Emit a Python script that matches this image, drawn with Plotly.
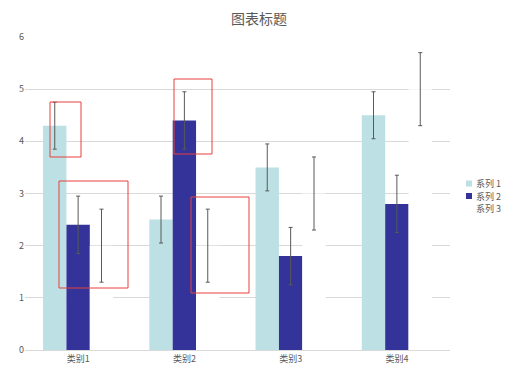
import plotly.graph_objects as go

categories = ["类别1", "类别2", "类别3", "类别4"]
series1 = [4.3, 2.5, 3.5, 4.5]
series2 = [2.4, 4.4, 1.8, 2.8]
series3 = [2.0, 2.0, 3.0, 5.0]
err1 = 0.45
err2 = 0.55
err3 = 0.7
y_ticks = [0, 1, 2, 3, 4, 5, 6]

names = ["系列 1", "系列 2", "系列 3"]
colors = ["#bce0e3", "#333399", "#ffffff"]
title_text = "图表标题"

FONT = "Noto Sans CJK SC, Microsoft YaHei, sans-serif"
GREY = "#595959"
ERR = dict(type="constant", color=GREY, thickness=1, width=2)

fig = go.Figure()
for name, vals, err, col in zip(names, [series1, series2, series3], [err1, err2, err3], colors):
    fig.add_bar(name=name, x=categories, y=vals, showlegend=False,
                marker=dict(color=col, line=dict(width=0)),
                error_y=dict(value=err, **ERR))

# page has an 8px body margin: viewport coordinates -> figure
OX, OY = 8, 8
VW, VH = 518, 380
W, H = VW - OX, VH - OY
PL, PR, PT, PB = 25, 450, 37, 350          # plot area in viewport pixels
pw, ph = PR - PL, PB - PT

def px(x):
    return (x - PL) / pw

def py(y):
    return (PB - y) / ph

def px_rect(x0, y0, x1, y1):
    return dict(type="rect", xref="paper", yref="paper",
                x0=px(x0), x1=px(x1), y0=py(y1), y1=py(y0),
                line=dict(color="#e8413c", width=1), fillcolor="rgba(0,0,0,0)", layer="above")

shapes = [px_rect(50, 102, 81, 157), px_rect(59, 181, 128, 288),
          px_rect(174, 79, 212, 154), px_rect(191, 197, 249, 293)]

# chart title
annotations = [dict(text=title_text, xref="paper", yref="paper", x=px(259), y=py(17.5),
                    xanchor="center", yanchor="middle", showarrow=False,
                    font=dict(family=FONT, size=14, color=GREY))]

# legend (Excel style: small squares, tight rows)
leg_y = [183.5, 196, 208.5]
for name, col, yy in zip(names, colors, leg_y):
    shapes.append(dict(type="rect", xref="paper", yref="paper",
                       x0=px(466), x1=px(472), y0=py(yy + 3), y1=py(yy - 3),
                       line=dict(width=0), fillcolor=col, layer="above"))
    annotations.append(dict(text=name, xref="paper", yref="paper", x=px(474), y=py(yy),
                            xanchor="left", yanchor="middle", showarrow=False,
                            font=dict(family=FONT, size=9, color=GREY)))

fig.update_layout(
    width=W, height=H,
    margin=dict(l=PL - OX, r=VW - PR, t=PT - OY, b=VH - PB, autoexpand=False, pad=0),
    paper_bgcolor="white", plot_bgcolor="white",
    barmode="group", bargap=0.34, bargroupgap=0,
    font=dict(family=FONT, size=9, color=GREY),
    showlegend=False,
    shapes=shapes,
    annotations=annotations,
)
fig.update_xaxes(showgrid=False, showline=True, linecolor="#d9d9d9", linewidth=1,
                 layer="above traces",
                 ticks="", tickfont=dict(family=FONT, size=9, color=GREY))
fig.update_yaxes(range=[0, 6], tickvals=y_ticks, showgrid=True, gridcolor="#d9d9d9", gridwidth=1,
                 zeroline=False, showline=False, ticks="",
                 tickfont=dict(family=FONT, size=9, color=GREY))

fig.write_html("out.html")
